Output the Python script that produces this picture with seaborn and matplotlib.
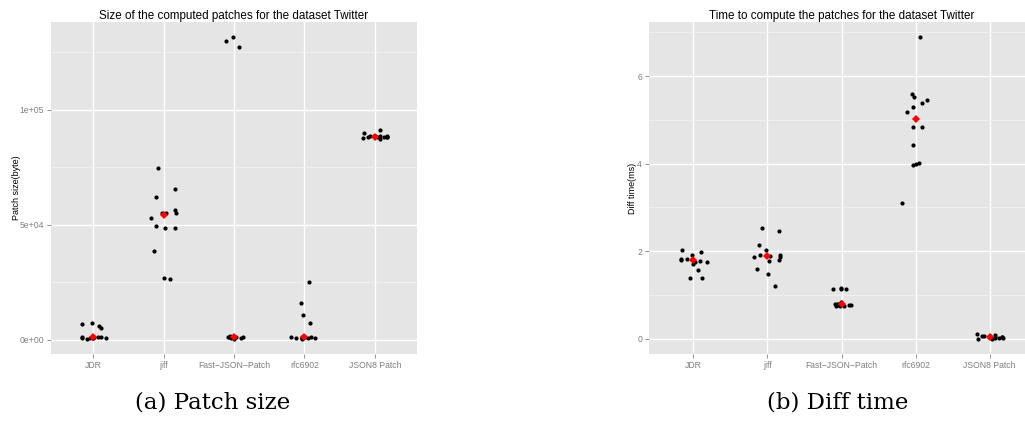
import numpy as np
import pandas as pd
import matplotlib
matplotlib.use("Agg")
import matplotlib.pyplot as plt
import seaborn as sns
from matplotlib.ticker import FixedLocator

libraries = ["JDR", "jiff", "Fast\u2212JSON\u2212Patch", "rfc6902", "JSON8 Patch"]

# Patch size (bytes), one run per entry
size_jdr = [6650, 5200, 7400, 6000, 900, 1300, 900, 800, 300, 900, 950, 1000, 850, 1100]
size_jiff = [74800, 65650, 61870, 54900, 56500, 53000, 54900, 55200, 49400, 48700, 48700, 38700, 26960, 26200]
size_fast = [127000, 131500, 130000, 400, 800, 1200, 1500, 1100, 900, 1000, 1000, 950, 1050, 1100]
size_rfc = [25200, 16000, 10900, 7400, 900, 850, 900, 950, 1000, 400, 800, 950, 900, 1000]
size_json8 = [89700, 87100, 88300, 88300, 88200, 91100, 87500, 88500, 88100, 88000, 88400, 88200, 87900, 88600]

# Diff time (ms), one run per entry
time_jdr = [2.02, 1.99, 1.91, 1.78, 1.76, 1.76, 1.80, 1.81, 1.83, 1.71, 1.57, 1.39, 1.39, 1.82]
time_jiff = [2.53, 2.46, 2.15, 2.03, 1.88, 1.88, 1.89, 1.92, 1.92, 1.78, 1.80, 1.60, 1.48, 1.21]
time_fast = [1.15, 1.16, 1.15, 1.15, 0.80, 0.84, 0.77, 0.77, 0.78, 0.74, 0.74, 0.80, 0.76, 0.79]
time_rfc = [6.89, 5.59, 5.52, 5.38, 5.29, 5.46, 5.18, 4.84, 4.84, 4.43, 4.02, 3.99, 3.97, 3.10]
time_json8 = [0.00, 0.02, 0.07, 0.08, 0.05, 0.04, 0.11, 0.06, 0.00, 0.07, 0.03, 0.05, 0.02, 0.04]

size_ticks = [0, 50000, 100000]
size_tick_labels = ["0e+00", "5e+04", "1e+05"]
time_ticks = [0, 2, 4, 6]
time_tick_labels = ["0", "2", "4", "6"]


def long_frame(series):
    rows = []
    for lib, vals in zip(libraries, series):
        rows.extend((lib, v) for v in vals)
    return pd.DataFrame(rows, columns=["library", "value"])


size_df = long_frame([size_jdr, size_jiff, size_fast, size_rfc, size_json8])
time_df = long_frame([time_jdr, time_jiff, time_fast, time_rfc, time_json8])

sns.set_theme(style="darkgrid")
plt.rcParams["font.family"] = ["Liberation Sans", "DejaVu Sans"]

fig = plt.figure(figsize=(10.25, 4.23), dpi=100)
ax_size = fig.add_axes([51 / 1025, 69 / 423, 366 / 1025, 332 / 423])
ax_time = fig.add_axes([649 / 1025, 69 / 423, 385 / 1025, 332 / 423])

GRID_BG = "#E5E5E5"
TICK_GREY = "#7F7F7F"


def draw_panel(ax, df, title, ylabel, ticks, tick_labels, label_x):
    np.random.seed(7)
    sns.stripplot(data=df, x="library", y="value", order=libraries, ax=ax,
                  color="black", size=3.0, jitter=0.19, linewidth=0, zorder=3)
    sns.pointplot(data=df, x="library", y="value", order=libraries, ax=ax,
                  estimator=np.median, errorbar=None, color="red",
                  markers="D", linestyle="none", markersize=3.8,
                  markeredgewidth=0, zorder=4)

    ax.set_facecolor(GRID_BG)
    ax.set_xlim(-0.6, len(libraries) - 0.4)
    lo, hi = df["value"].min(), df["value"].max()
    pad = 0.05 * (hi - lo)
    ax.set_ylim(lo - pad, hi + pad)

    ax.set_yticks(ticks)
    ax.set_yticklabels(tick_labels)
    minor = [(a + b) / 2 for a, b in zip(ticks[:-1], ticks[1:])]
    minor.append(ticks[-1] + (ticks[1] - ticks[0]) / 2)
    ax.yaxis.set_minor_locator(FixedLocator(minor))

    ax.grid(True, which="major", color="white", linewidth=1.0)
    ax.grid(True, which="minor", axis="y", color="#F2F2F2", linewidth=0.6)
    ax.set_axisbelow(True)
    for sp in ax.spines.values():
        sp.set_visible(False)

    ax.tick_params(axis="both", which="major", direction="out", length=3,
                   width=0.6, color=TICK_GREY, labelcolor=TICK_GREY,
                   labelsize=6.2, pad=2, bottom=True, left=True)
    ax.tick_params(axis="both", which="minor", length=0)

    ax.set_xlabel("")
    ax.set_ylabel(ylabel, fontsize=6.5, color="black")
    ax.yaxis.set_label_coords(label_x, 0.5)
    ax.set_title(title, fontsize=8.4, color="black", pad=2)


draw_panel(ax_size, size_df, "Size of the computed patches for the dataset Twitter",
           "Patch size(byte)", size_ticks, size_tick_labels, (21 - 51) / 366)
draw_panel(ax_time, time_df, "Time to compute the patches for the dataset Twitter",
           "Diff time(ms)", time_ticks, time_tick_labels, (637 - 649) / 385)

fig.text(213 / 1025, 1 - 402 / 423, "(a) Patch size", ha="center", va="center",
         fontsize=16.5, family="DejaVu Serif", color="black")
fig.text(838 / 1025, 1 - 402 / 423, "(b) Diff time", ha="center", va="center",
         fontsize=16.5, family="DejaVu Serif", color="black")

fig.savefig("out.png", dpi=100, facecolor="white")
